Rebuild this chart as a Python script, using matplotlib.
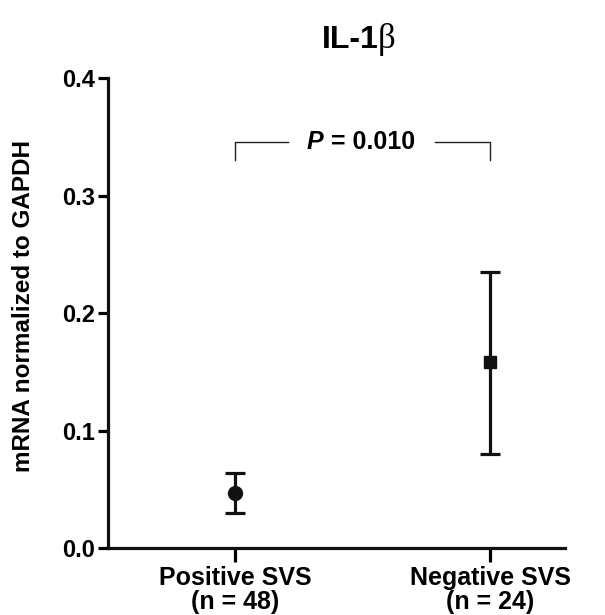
import matplotlib
matplotlib.use("Agg")
import matplotlib.pyplot as plt

plt.rcParams['font.family'] = ['Liberation Sans', 'DejaVu Sans']
plt.rcParams['font.weight'] = 'bold'

groups = ["Positive SVS\n(n = 48)", "Negative SVS\n(n = 24)"]
means = [0.047, 0.158]
err_low = [0.030, 0.080]
err_high = [0.064, 0.235]
markers = ["o", "s"]
y_ticks = [0.0, 0.1, 0.2, 0.3, 0.4]
p_label = "= 0.010"

fig = plt.figure(figsize=(6.05, 6.15), dpi=100)
ax = fig.add_axes([0.1785, 0.109, 0.7555, 0.764])

for i, (m, lo, hi, mk) in enumerate(zip(means, err_low, err_high, markers)):
    ax.errorbar([i], [m], yerr=[[m - lo], [hi - m]], fmt=mk, color="#111111",
                ms=10 if mk == "o" else 9, elinewidth=2.3, capsize=7.5, capthick=2.3)

ax.set_xlim(-0.498, 1.294)
ax.set_ylim(0, 0.4)
ax.set_yticks(y_ticks)
ax.set_yticklabels([f"{t:.1f}" for t in y_ticks], fontsize=17, fontweight="bold")
ax.set_xticks(range(len(groups)))
ax.set_xticklabels(groups, fontsize=18, fontweight="bold", linespacing=1.0)
ax.set_ylabel("mRNA normalized to GAPDH", fontsize=17.5, fontweight="bold")
ax.yaxis.set_label_coords(-0.16, 0.515)

for s in ["top", "right"]:
    ax.spines[s].set_visible(False)
for s in ["left", "bottom"]:
    ax.spines[s].set_linewidth(2.3)
    ax.spines[s].set_color("#111111")
ax.tick_params(axis="y", length=7, width=2.3, pad=2)
ax.tick_params(axis="x", length=10, width=2.3, pad=3)

# significance bracket
by, drop = 0.3455, 0.3305
ax.plot([0, 0, 0.208], [drop, by, by], color="#222222", lw=1.0)
ax.plot([0.784, 1, 1], [by, by, drop], color="#222222", lw=1.0)
ax.text(0.345, by, "P", fontsize=18, fontweight="bold", style="italic",
        ha="right", va="center")
ax.text(0.378, by, p_label, fontsize=18, fontweight="bold", ha="left", va="center")

# title
fig.text(0.625, 0.935, "IL-1", fontsize=23, fontweight="bold", ha="right", va="center")
fig.text(0.625, 0.935, "β", fontsize=25, family="Liberation Serif", ha="left", va="center",
         fontweight="normal")

fig.savefig("out.png", dpi=100, facecolor="white")
